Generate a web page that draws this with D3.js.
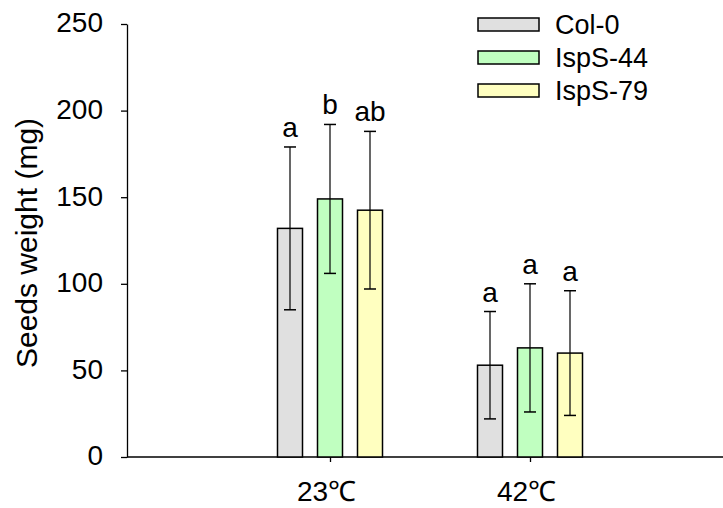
<!DOCTYPE html>
<html><head><meta charset="utf-8">
<script src="https://cdn.jsdelivr.net/npm/d3@7"></script>
<style>body{margin:0;background:#fff}svg{display:block}</style>
</head><body>
<svg id="chart" width="723" height="508"></svg>
<script>
const groups = ["23℃", "42℃"];
const seriesNames = ["Col-0", "IspS-44", "IspS-79"];
const seriesColors = ["#e0e0e0", "#c0ffc0", "#ffffc0"];
const means = [[132, 53], [149, 63], [142.5, 60]];
const errors = [[47, 31], [43, 37], [45.5, 36]];
const letters = [["a", "a"], ["b", "a"], ["ab", "a"]];
const yTicks = [0, 50, 100, 150, 200, 250];
const yTitle = "Seeds weight (mg)";

const svg = d3.select("#chart");
const font = "Arial, 'Liberation Sans', sans-serif";
const x0 = 127, x1 = 723, yTop = 24, yBot = 457;

const y = d3.scaleLinear().domain([0, 250]).range([yBot, yTop]);
const x = d3.scaleLinear().domain([0, 3]).range([130, 730]);
const off = d3.scaleLinear().domain([0, 2]).range([-40, 40]);
const barW = 25;

// y axis
const yAxis = svg.append("g").attr("transform", `translate(${x0},0)`)
  .call(d3.axisLeft(y).tickValues(yTicks).tickSize(6).tickSizeOuter(0).tickPadding(18));
yAxis.select(".domain").attr("stroke", "#000").attr("stroke-width", 1.3);
yAxis.selectAll(".tick line").attr("stroke", "#000").attr("stroke-width", 1.3);
yAxis.selectAll(".tick text").attr("font-family", font).attr("font-size", 28).attr("fill", "#000").attr("dy", "0.28em");

// x axis
const xAxis = svg.append("g").attr("transform", `translate(0,${yBot})`)
  .call(d3.axisBottom(x).tickValues([1, 2]).tickFormat((d) => groups[d - 1]).tickSize(5).tickSizeOuter(0));
xAxis.select(".domain").remove();
xAxis.selectAll(".tick line").attr("stroke", "#000").attr("stroke-width", 1.3);
xAxis.selectAll(".tick text").attr("font-family", font).attr("font-size", 28).attr("fill", "#000")
  .attr("y", 44).attr("dy", 0).attr("dx", -4);
svg.append("line").attr("x1", x0).attr("x2", x1).attr("y1", yBot).attr("y2", yBot)
  .attr("stroke", "#000").attr("stroke-width", 1.3);

// bars
seriesNames.forEach((s, si) => {
  groups.forEach((g, gi) => {
    const cx = x(gi + 1) + off(si);
    const m = means[si][gi], e = errors[si][gi];
    svg.append("rect").attr("x", cx - barW / 2).attr("y", y(m)).attr("width", barW)
      .attr("height", y(0) - y(m)).attr("fill", seriesColors[si]).attr("stroke", "#000").attr("stroke-width", 1.5);
    svg.append("line").attr("x1", cx).attr("x2", cx).attr("y1", y(m + e)).attr("y2", y(m - e))
      .attr("stroke", "#000").attr("stroke-width", 1.2);
    [m + e, m - e].forEach(v => svg.append("line").attr("x1", cx - 6).attr("x2", cx + 6)
      .attr("y1", y(v)).attr("y2", y(v)).attr("stroke", "#000").attr("stroke-width", 1.5));
    svg.append("text").attr("x", cx).attr("y", y(m + e) - 10).attr("text-anchor", "middle")
      .attr("font-family", font).attr("font-size", 28).text(letters[si][gi]);
  });
});

// y title
svg.append("text").attr("transform", "translate(37,243) rotate(-90)").attr("text-anchor", "middle")
  .attr("font-family", font).attr("font-size", 30).text(yTitle);

// legend
seriesNames.forEach((s, si) => {
  const ly = 24.5 + si * 33;
  svg.append("rect").attr("x", 478).attr("y", ly - 6.5).attr("width", 61).attr("height", 13)
    .attr("fill", seriesColors[si]).attr("stroke", "#000").attr("stroke-width", 1.5);
  svg.append("text").attr("x", 555).attr("y", ly).attr("dy", "0.36em")
    .attr("font-family", font).attr("font-size", 27).text(s);
});
</script>
</body></html>
